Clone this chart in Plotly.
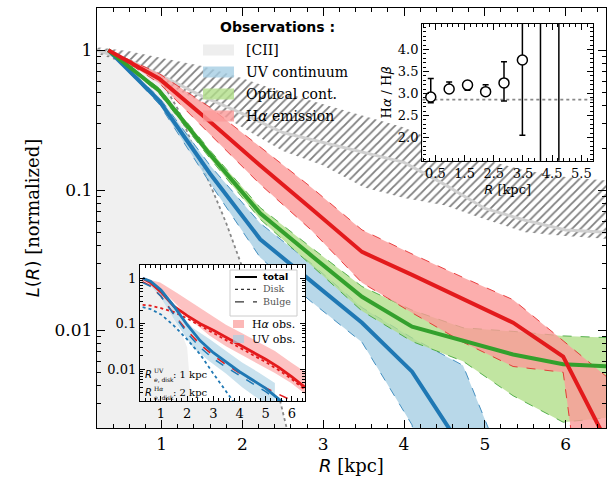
import math
import plotly.graph_objects as go

# ---------------- observed radial profiles (main panel) ----------------
r_obs = [0.34, 0.97, 1.6, 2.22, 2.85, 3.48, 4.1, 4.73, 5.35, 5.97, 6.6]

ha_mid = [1.0, 0.625, 0.308, 0.150, 0.074, 0.0362, 0.0248, 0.0166, 0.0113, 0.00646, 0.00126]
ha_hi = [1.0, 0.68, 0.39, 0.205, 0.105, 0.052, 0.035, 0.0238, 0.0165, 0.0084, 0.0042]
ha_lo = [1.0, 0.58, 0.25, 0.11, 0.052, 0.0218, 0.0133, 0.0082, 0.0055, 0.0050, 1e-5]

opt_mid = [1.0, 0.513, 0.18, 0.0684, 0.0342, 0.0173, 0.0106, 0.0084, 0.0067, 0.0057, 0.0055]
opt_hi = [1.0, 0.535, 0.192, 0.075, 0.039, 0.0205, 0.0139, 0.0104, 0.0098, 0.0091, 0.0088]
opt_lo = [1.0, 0.49, 0.168, 0.062, 0.029, 0.0137, 0.0083, 0.006, 0.0034, 0.0022, 0.0024]

uv_mid = [1.0, 0.435, 0.131, 0.0446, 0.0224, 0.0113, 0.00505, 0.0014]
uv_hi = [1.0, 0.46, 0.15, 0.058, 0.03, 0.0145, 0.0088, 0.0056, 0.00073]
uv_lo = [1.0, 0.41, 0.112, 0.033, 0.016, 0.0082, 0.0021, 1e-6, 1e-6]

# [CII] profile and its range
r_cii = [0.2, 0.6, 1.0, 1.5, 2.0, 2.5, 3.0, 3.5, 4.0, 4.5, 5.0, 5.5, 6.0, 6.5]
cii_mid = [1.0, 0.84, 0.656, 0.47, 0.352, 0.258, 0.219, 0.186, 0.158, 0.11, 0.074, 0.061, 0.052, 0.05]
cii_hi = [1.05, 0.98, 0.88, 0.77, 0.63, 0.5, 0.41, 0.34, 0.28, 0.21, 0.165, 0.138, 0.124, 0.117]
cii_lo = [0.95, 0.78, 0.6, 0.42, 0.28, 0.19, 0.15, 0.105, 0.088, 0.078, 0.062, 0.05, 0.047, 0.045]

# point spread function
r_psf = [0.2, 0.4, 0.6, 0.8, 1.0, 1.2, 1.4, 1.6, 1.8, 2.0, 2.2, 2.4, 2.6]
psf = [1.0, 0.93, 0.83, 0.72, 0.6, 0.38, 0.2, 0.11, 0.058, 0.028, 0.012, 0.0045, 0.0015]

# ---------------- Balmer decrement (upper inset) ----------------
bd_r = [0.34, 0.97, 1.6, 2.22, 2.85, 3.48, 4.1, 4.73]
bd_val = [2.92, 3.10, 3.19, 3.04, 3.24, 3.76, 4.9, 4.9]
bd_up = [0.42, 0.16, 0.09, 0.16, 0.48, 1.5, 3.0, 3.0]
bd_dn = [0.13, 0.07, 0.12, 0.08, 0.41, 1.71, 4.0, 4.0]
case_b = 2.86

# ---------------- disk + bulge models (lower inset) ----------------
m_r = [0.3, 0.6, 1.0, 1.5, 2.0, 2.5, 3.0, 3.5, 4.0, 4.5, 5.0, 5.5, 6.0, 6.5]
ha_tot = [1.0, 0.8, 0.5, 0.24, 0.15, 0.1, 0.072, 0.05, 0.035, 0.024, 0.0165, 0.011, 0.0068, 0.004]
ha_disk = [0.26, 0.25, 0.22, 0.18, 0.13, 0.09, 0.062, 0.043, 0.03, 0.021, 0.0143, 0.0095, 0.006, 0.0035]
ha_bulge = [0.84, 0.68, 0.4, 0.16, 0.07, 0.035, 0.02, 0.0125, 0.0082, 0.0056, 0.0039, 0.0028, 0.002, 0.0015]
uv_tot = [1.0, 0.86, 0.55, 0.24, 0.095, 0.042, 0.023, 0.014, 0.0088, 0.0058, 0.0038, 0.0022, 0.0013, 0.0008]
uv_disk = [0.23, 0.21, 0.16, 0.09, 0.045, 0.021, 0.008, 0.0031, 0.0012, 0.0005, 0.0002, 0.0001, 0.00005, 0.00002]
uv_bulge = [0.8, 0.66, 0.4, 0.16, 0.062, 0.03, 0.017, 0.011, 0.0072, 0.0048, 0.0032, 0.002, 0.0012, 0.0008]

# observed bands and shaded core region as shown in the lower inset
ha_obs_hi = [1.0, 0.8, 0.48, 0.28, 0.16, 0.095, 0.062, 0.04, 0.025, 0.014, 0.008]
ha_obs_lo = [1.0, 0.6, 0.26, 0.11, 0.055, 0.032, 0.02, 0.013, 0.0082, 0.005, 0.0026]
uv_obs_hi = [1.0, 0.5, 0.2, 0.08, 0.046, 0.025, 0.014, 0.0085, 0.005]
uv_obs_lo = [1.0, 0.4, 0.1, 0.03, 0.015, 0.008, 0.004, 0.0022, 0.001]
r_core = [0.2, 0.6, 1.0, 1.4, 1.8, 2.0, 2.1, 2.2]
core = [1.0, 0.75, 0.4, 0.15, 0.06, 0.03, 0.008, 0.001]

# ---------------- colours ----------------
RED, RED_F = "#e31a1c", "rgba(251,154,153,0.8)"
GRN, GRN_F = "#33a02c", "rgba(178,223,138,0.8)"
BLU, BLU_F = "#1f78b4", "rgba(166,206,227,0.8)"
GRAY_F = "#f0f0f0"
SERIF = "DejaVu Serif"
SANS = "DejaVu Sans"


def math_it(s):
    return "<span style='font-family:DejaVu Sans'>" + s + "</span>"


fig = go.Figure()


def band(x, lo, hi, fill, edge=None, xa="x", ya="y"):
    n = min(len(x), len(lo), len(hi))
    xs = list(x[:n]) + list(x[:n])[::-1]
    ys = list(hi[:n]) + list(lo[:n])[::-1]
    line = dict(color=edge, width=0.8, dash="dash") if edge else dict(width=0)
    fig.add_trace(go.Scatter(x=xs, y=ys, mode="lines", fill="toself", fillcolor=fill,
                             line=line, hoverinfo="skip", showlegend=False,
                             xaxis=xa, yaxis=ya))


def curve(x, y, color, width, dash="solid", xa="x", ya="y"):
    n = min(len(x), len(y))
    fig.add_trace(go.Scatter(x=x[:n], y=y[:n], mode="lines",
                             line=dict(color=color, width=width, dash=dash),
                             hoverinfo="skip", showlegend=False, xaxis=xa, yaxis=ya))


# ---- main panel ----
fig.add_trace(go.Scatter(x=r_psf, y=psf, mode="lines", fill="tozeroy", fillcolor=GRAY_F,
                         line=dict(color="#888888", width=1.8, dash="dot"),
                         hoverinfo="skip", showlegend=False))
fig.add_trace(go.Scatter(
    x=r_cii + r_cii[::-1], y=cii_hi + cii_lo[::-1], mode="lines", fill="toself",
    fillcolor="rgba(0,0,0,0)", line=dict(width=0),
    fillpattern=dict(shape="/", fgcolor="black", bgcolor="rgba(0,0,0,0)", size=6, solidity=0.3),
    hoverinfo="skip", showlegend=False))
curve(r_cii, cii_mid, "#d0d0d0", 3)

band(r_obs, uv_lo, uv_hi, BLU_F, BLU)
band(r_obs, opt_lo, opt_hi, GRN_F, GRN)
band(r_obs, ha_lo, ha_hi, RED_F, RED)
curve(r_obs, uv_mid, BLU, 4)
curve(r_obs, opt_mid, GRN, 4)
curve(r_obs, ha_mid, RED, 4)

# ---- upper inset: Balmer decrement ----
fig.add_trace(go.Scatter(x=[0.05, 5.9], y=[case_b, case_b], mode="lines",
                         line=dict(color="#888888", width=1.8, dash="dot"),
                         hoverinfo="skip", showlegend=False, xaxis="x2", yaxis="y2"))
fig.add_trace(go.Scatter(
    x=bd_r, y=bd_val, mode="markers",
    marker=dict(symbol="circle", size=10, color="white", line=dict(color="black", width=1.5)),
    error_y=dict(type="data", symmetric=False, array=bd_up, arrayminus=bd_dn,
                 color="black", thickness=1.5, width=3),
    hoverinfo="skip", showlegend=False, xaxis="x2", yaxis="y2"))

# ---- lower inset: disk + bulge decomposition ----
fig.add_trace(go.Scatter(x=r_core, y=core, mode="lines", fill="tozeroy", fillcolor=GRAY_F,
                         line=dict(width=0), hoverinfo="skip", showlegend=False,
                         xaxis="x3", yaxis="y3"))
band(r_obs, ha_obs_lo, ha_obs_hi, "rgba(251,154,153,0.6)", None, "x3", "y3")
band(r_obs, uv_obs_lo, uv_obs_hi, "rgba(166,206,227,0.6)", None, "x3", "y3")
curve(m_r, ha_disk, RED, 1.8, "dot", "x3", "y3")
curve(m_r, ha_bulge, RED, 1.5, "dash", "x3", "y3")
curve(m_r, uv_disk, BLU, 1.8, "dot", "x3", "y3")
curve(m_r, uv_bulge, BLU, 1.5, "dash", "x3", "y3")
curve(m_r, ha_tot, RED, 2.8, "solid", "x3", "y3")
curve(m_r, uv_tot, BLU, 2.8, "solid", "x3", "y3")

# ---------------- axes ----------------
log_minor = [m * 10 ** e for e in (-3, -2, -1, 0) for m in range(2, 10)]


def frame(**kw):
    d = dict(showline=True, linecolor="black", linewidth=1.4, mirror="allticks",
             ticks="inside", tickcolor="black", tickwidth=1, showgrid=False, zeroline=False)
    d.update(kw)
    return d


W, H = 611, 485
L, R, T, B = 97, 5, 8, 57
PW, PH = W - L - R, H - T - B


def px(X):
    return (X - L) / PW


def py(Y):
    return (H - B - Y) / PH


fig.update_layout(
    width=W, height=H, margin=dict(l=L, r=R, t=T, b=B),
    paper_bgcolor="white", plot_bgcolor="white",
    xaxis=frame(domain=[0, 1], anchor="y", range=[0.2, 6.5], tickvals=[1, 2, 3, 4, 5, 6],
                ticklen=8, minor=dict(ticks="inside", ticklen=4, dtick=0.2, tick0=0, tickcolor="black"),
                tickfont=dict(family=SERIF, size=17, color="black"),
                title=dict(text=math_it("<i>R</i>") + " [kpc]",
                           font=dict(family=SERIF, size=18, color="black"), standoff=6)),
    yaxis=frame(domain=[0, 1], anchor="x", type="log", range=[math.log10(0.002), math.log10(2)],
                tickvals=[0.01, 0.1, 1], ticktext=["0.01", "0.1", "1"], ticklen=8,
                minor=dict(ticks="inside", ticklen=4, tickvals=log_minor, tickcolor="black"),
                tickfont=dict(family=SERIF, size=17, color="black"),
                title=dict(text=math_it("<i>L</i>(<i>R</i>)") + " [normalized]",
                           font=dict(family=SERIF, size=18, color="black"), standoff=10)),
    xaxis2=frame(domain=[px(422.3), px(593)], anchor="y2", range=[0.05, 5.9],
                 tickvals=[0.5, 1.5, 2.5, 3.5, 4.5, 5.5], ticktext=["0.5", "1.5", "2.5", "3.5", "4.5", "5.5"],
                 ticklen=6, minor=dict(ticks="inside", ticklen=3, dtick=0.2, tick0=0.5, tickcolor="black"),
                 tickfont=dict(family=SERIF, size=13, color="black"),
                 title=dict(text=math_it("<i>R</i>") + " [kpc]",
                            font=dict(family=SERIF, size=13, color="black"), standoff=5)),
    yaxis2=frame(domain=[py(160.7), py(24)], anchor="x2", range=[1.47, 4.58],
                 tickvals=[2.0, 2.5, 3.0, 3.5, 4.0], ticktext=["2.0", "2.5", "3.0", "3.5", "4.0"],
                 ticklen=6, minor=dict(ticks="inside", ticklen=3, dtick=0.1, tick0=0, tickcolor="black"),
                 tickfont=dict(family=SERIF, size=13, color="black"),
                 title=dict(text="H" + math_it("<i>α</i>") + " / H" + math_it("<i>β</i>"),
                            font=dict(family=SERIF, size=13, color="black"), standoff=3)),
    xaxis3=frame(domain=[px(140), px(305)], anchor="y3", range=[0.2, 6.5], tickvals=[1, 2, 3, 4, 5, 6],
                 ticklen=5, minor=dict(ticks="inside", ticklen=3, dtick=0.2, tick0=0, tickcolor="black"),
                 tickfont=dict(family=SERIF, size=13, color="black")),
    yaxis3=frame(domain=[py(401), py(264.5)], anchor="x3", type="log",
                 range=[math.log10(0.002), math.log10(2)],
                 tickvals=[0.01, 0.1, 1], ticktext=["0.01", "0.1", "1"], ticklen=5,
                 minor=dict(ticks="inside", ticklen=3, tickvals=log_minor, tickcolor="black"),
                 tickfont=dict(family=SERIF, size=13, color="black")),
)


def note(X, Y, text, size, family=SERIF, color="black", xanchor="left", yanchor="middle", **kw):
    return dict(x=px(X), y=py(Y), xref="paper", yref="paper", text=text, showarrow=False,
                xanchor=xanchor, yanchor=yanchor, borderpad=0,
                font=dict(family=family, size=size, color=color), **kw)


# ---------------- main legend ----------------
ann = []
shapes = []
ann.append(note(277, 27, "<b>Observations :</b>", 14, SANS, xanchor="center"))
leg = [("[CII]", "rgba(236,236,236,0.9)", 50), ("UV continuum", BLU_F, 72),
       ("Optical cont.", GRN_F, 94), ("H" + math_it("<i>α</i>") + " emission", RED_F, 116)]
for label, col, yc in leg:
    shapes.append(dict(type="rect", xref="paper", yref="paper", x0=px(203), x1=px(234),
                       y0=py(yc - 5.5), y1=py(yc + 5.5), fillcolor=col, line=dict(width=0), layer="above"))
    ann.append(note(245, yc, label, 14))

# ---------------- lower-inset legend ----------------
shapes.append(dict(type="rect", xref="paper", yref="paper", x0=px(230), x1=px(297), y0=py(316), y1=py(270),
                   fillcolor="rgba(255,255,255,0.85)", line=dict(color="#cccccc", width=1), layer="above"))
row_y = [277, 289.4, 301.8]
for dash, yc, strong in zip(["solid", "dot", "dash"], row_y, [True, False, False]):
    shapes.append(dict(type="line", xref="paper", yref="paper", x0=px(235), x1=px(257), y0=py(yc), y1=py(yc),
                       line=dict(color="black" if strong else "#333333", width=2 if strong else 1.3, dash=dash),
                       layer="above"))
ann.append(note(262, row_y[1],
                "<span style='font-family:DejaVu Sans;color:black'><b>total</b></span><br>Disk<br>Bulge",
                9.5, color="#555555", align="left"))
for label, col, yc in [("H" + math_it("<i>α</i>") + " obs.", "rgba(251,154,153,0.7)", 324),
                       ("UV obs.", "rgba(166,206,227,0.7)", 339)]:
    shapes.append(dict(type="rect", xref="paper", yref="paper", x0=px(233), x1=px(244),
                       y0=py(yc - 4), y1=py(yc + 4), fillcolor=col, line=dict(width=0), layer="above"))
    ann.append(note(251, yc, label, 11))
for sup, yc, val in [("UV", 374.5, "1 kpc"), ("H<i>α</i>", 392, "2 kpc")]:
    ann.append(note(143.5, yc, "<i>R</i>", 10, SANS))
    ann.append(note(153, yc + 0.5, sup, 6, yanchor="bottom"))
    ann.append(note(153, yc + 0.5, "<i>e</i>, disk", 6, SANS, yanchor="top"))
    ann.append(note(172, yc, ": " + val, 10))

fig.update_layout(annotations=ann, shapes=shapes)
fig.write_html("out.html")
